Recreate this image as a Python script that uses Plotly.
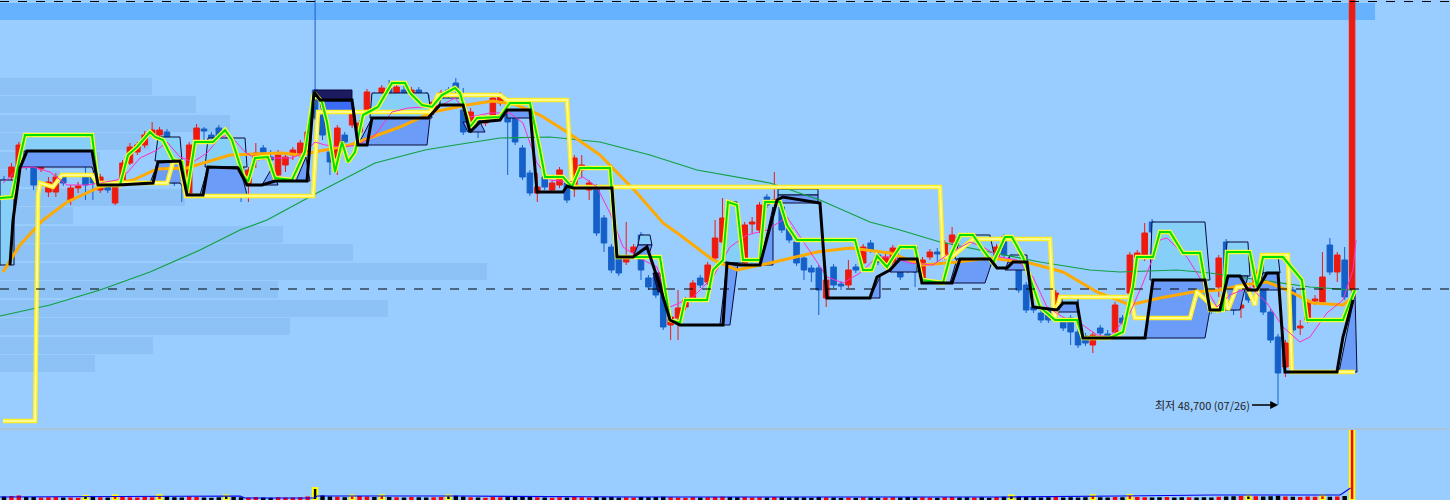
import plotly.graph_objects as go

# ---------------- candle data (price in KRW) ----------------
opens = [59950,60100,60600,61450,60600,60500,59350,59350,60100,58950,
         59550,60100,60100,59450,59600,58800,59950,60800,61350,61700,
         62200,62200,62350,60100,59950,59300,61850,62500,62200,62550,
         61950,61450,60800,59700,61050,61550,61100,60200,60700,61200,
         61200,61350,64450,63200,61350,61050,62200,62700,62350,63350,
         64200,63850,64550,64300,64450,63950,64450,64200,63350,64050,
         64450,64800,63450,62800,62950,62800,63200,63800,63600,63100,
         61550,60300,59300,60100,59450,59700,59800,59600,60450,59450,
         59600,58050,56600,56100,55850,56350,57200,55050,55100,54300,
         52700,53050,53600,54050,55050,54850,56050,56850,58800,56800,
         55800,57750,57450,59100,58800,58600,57550,56850,56050,55550,
         55550,54050,55600,54750,54700,55600,55800,56800,56200,55700,
         55850,55700,55950,55950,55050,56100,56350,56100,56850,57100,
         56850,56350,56550,55950,56100,57100,56100,56050,54700,53600,
         53300,53450,53300,52950,53050,52350,52150,51700,52550,52250,
         52350,53050,54300,56100,56050,57850,57450,56850,56800,55450,
         54600,54450,53950,53550,54600,56850,53950,53550,54450,54600,
         54450,53350,52100,50600,54450,52550,52950,53900,53850,56700,
         55350,55950,54450]
highs = [60150,60800,61850,61650,61000,60850,60100,60300,60250,59700,
         59850,60700,60350,60250,59800,59850,60950,61800,61850,62400,
         62850,62600,62500,60250,60150,61850,62750,62600,62350,62700,
         62100,61600,60950,60600,61800,61700,61450,61450,61250,61600,
         61950,62550,70950,63350,61550,62700,62350,63550,62950,64500,
         64350,64700,64950,64750,64650,64600,64600,64350,64000,64450,
         64600,65050,64550,63550,63200,63200,64200,64350,63750,63250,
         61700,60450,60300,60250,59950,60600,59950,61200,61200,59950,
         59750,58200,56750,56250,57850,56750,57350,55200,55250,54450,
         53250,54450,54100,54950,55200,55850,57950,59050,58950,56950,
         57850,58100,58850,59250,60350,58750,57700,57000,56200,55700,
         55700,55100,55750,54900,55950,55750,56750,56950,56350,56250,
         56700,55850,56100,56100,56100,56500,56550,56950,57600,57250,
         57000,57200,56700,56100,56750,57250,56250,56200,54850,53750,
         53450,53600,54450,53100,53200,52500,52300,52350,52700,52450,
         53850,53200,56350,56450,57800,58000,57600,57250,56950,55600,
         55350,54600,54100,53700,56200,57000,54100,53850,54600,55500,
         54600,53500,52250,51950,54600,52950,53950,54200,56350,57050,
         56350,56600,70750]
lows = [59650,59950,59850,60450,59450,60350,59100,59100,59650,58700,
        59300,58950,58950,59300,59300,58700,59800,60700,61200,61550,
        62100,61950,59700,59650,58850,59150,61700,61850,61450,61950,
        60800,60550,58850,58850,60550,60950,60700,60050,60350,60950,
        61050,61200,62950,61950,60200,60200,61450,62550,62200,63200,
        63650,63700,64150,64150,63950,63800,63400,63800,63200,63900,
        64050,64300,62200,62550,62050,62650,63050,63650,60200,61700,
        59950,59150,58850,59450,59300,59550,58800,59100,60100,58950,
        57150,56350,55300,55150,55700,56200,54950,54450,54050,52450,
        51950,51950,53450,53900,54550,54700,55900,56700,57050,55650,
        55650,57300,57300,58550,58650,57300,56800,55650,54950,54850,
        53200,53600,54550,54450,54550,55300,55650,56300,55700,55550,
        55700,54950,55300,54600,54900,55950,55850,55950,56700,56450,
        56400,56200,55650,55650,55950,56050,55650,54300,53300,53300,
        52800,52800,53150,52400,51700,51550,51650,51300,52150,51950,
        52200,52650,54150,55950,55900,57200,56950,56350,55550,54550,
        54450,53800,52950,53250,54100,54950,53200,53050,53800,54450,
        53200,51800,48700,50100,52300,52200,52800,53700,53700,55200,
        54850,53950,54300]
closes = [59850,60600,61700,60700,59700,60650,59850,60100,59800,59550,
          59650,59700,59800,60100,59450,59700,60800,61600,61700,62200,
          62450,62450,59850,59800,59800,61700,62550,62400,61700,62100,
          60950,60700,60200,60450,61300,61100,60950,61200,61100,61450,
          61800,62350,63050,62200,60850,62550,61850,63350,62800,64350,
          63850,64550,64300,64600,64100,64450,63550,63950,63850,64300,
          64200,64450,62350,63350,62700,62950,64050,64200,62850,61850,
          60100,59300,59600,59600,59800,60450,58950,61050,60700,59800,
          57300,56800,55450,55300,56100,56600,55450,54600,54200,52600,
          53100,53550,53950,54800,54700,55700,57050,58050,57200,55800,
          57700,57850,58700,58700,58950,57450,56950,55800,55450,55350,
          54450,54950,54700,54650,55450,55450,56600,56450,55850,56100,
          56550,55100,55450,55350,55950,56350,56250,56800,57200,56600,
          56550,57050,55800,55800,56600,56200,55800,54450,53450,53450,
          52950,52950,54300,52550,52350,51700,51800,52200,52300,52150,
          53700,52800,56200,56300,57300,57350,57100,57100,55700,55200,
          55200,53950,53100,53400,56050,55100,53450,53700,53950,55350,
          53350,51950,50300,51800,52450,52650,53800,54000,55100,55350,
          56200,54100,70750]
volumes = [70000,80000,90000,60000,60000,50000,55000,60000,50000,50000,
           45000,80000,60000,55000,50000,90000,60000,55000,50000,60000,
           55000,95000,70000,55000,50000,70000,60000,50000,45000,55000,
           90000,60000,55000,50000,60000,50000,45000,55000,50000,50000,
           55000,70000,240000,90000,70000,65000,55000,90000,80000,70000,
           60000,95000,60000,55000,50000,60000,55000,50000,55000,60000,
           90000,85000,70000,55000,50000,45000,60000,55000,65000,60000,
           65000,60000,55000,50000,45000,55000,50000,60000,55000,50000,
           60000,55000,60000,50000,55000,50000,60000,55000,60000,65000,
           55000,50000,45000,55000,50000,55000,60000,65000,60000,55000,
           60000,50000,55000,50000,60000,55000,50000,55000,50000,45000,
           60000,55000,50000,45000,50000,45000,55000,50000,45000,50000,
           55000,50000,60000,50000,55000,50000,45000,55000,60000,50000,
           55000,50000,55000,45000,60000,65000,90000,70000,60000,55000,
           50000,55000,60000,50000,55000,50000,55000,95000,55000,50000,
           60000,55000,100000,60000,55000,50000,55000,60000,50000,55000,
           55000,50000,55000,50000,65000,70000,75000,80000,90000,75000,
           70000,75000,85000,70000,65000,60000,70000,65000,95000,65000,
           70000,80000,1450000]
highlight_vol = [11, 15, 21, 30, 42, 47, 51, 60, 136, 147, 152, 168, 178, 182]

# ---------------- indicator key points (bar index, price) ----------------
tenkan_i = [-0.54,1.08,2.16,2.84,11.88,12.69,15.66,16.74,17.96,19.71,20.39,21.47,22.82,24.03,24.71,25.79,28.22,29.84,30.78,32.27,32.94,33.89,35.64,36.59,38.88,40.64,41.85,42.93,43.61,44.01,44.69,45.63,46.44,47.39,48.47,50.49,52.38,54.14,54.81,56.43,57.78,59.13,60.89,61.56,62.91,63.86,66.96,68.31,71.01,72.36,73.04,75.47,76.68,77.76,81.81,82.76,88.56,89.91,91.26,91.94,94.9,95.72,97.07,97.74,98.96,99.77,102.06,102.74,104.76,105.71,107.06,114.89,115.97,117.18,117.86,119.21,120.96,122.99,123.93,126.77,127.71,129.06,130.82,132.17,133.52,135.14,136.08,137.57,138.51,139.86,141.89,144.86,145.67,149.31,151.07,152.42,152.96,155.12,156.06,157.41,159.17,161.46,162.81,164.57,165.11,168.21,169.16,169.97,172.67,175.23,175.91,180.77,181.71,182.39]
tenkan_p = [59050,59100,61100,62200,62200,59700,59700,61200,61600,62350,62100,61950,60950,60850,59300,61850,61850,62450,61950,60200,59850,61050,61100,60050,59950,61350,64300,63850,62850,61850,60350,61850,60850,61350,63200,63600,64800,64800,64300,63700,63600,64200,64550,64300,62600,63050,63100,63800,63800,61450,60100,60100,59600,60550,60550,56100,56100,52950,52800,53950,53950,55450,55950,58850,58700,55950,55950,58850,58850,57700,56950,56950,55450,55450,56150,55600,56600,56600,54950,54800,56100,57200,57200,56450,55800,57100,57100,56100,55100,53600,52950,52950,52050,52050,52350,54600,56100,56100,57350,57350,56300,56300,53450,53450,56350,56350,54600,56100,56100,54950,52950,52950,53850,54450]

kijun_i = [0.81,1.22,2.16,3.11,11.88,12.69,15.39,20.12,20.79,23.76,24.71,26.87,27.54,31.59,32.81,34.83,36.59,40.91,41.85,42.66,46.98,47.79,49.01,49.68,57.24,58.86,61.97,62.91,64.26,66.96,67.91,71.01,71.96,75.47,76.01,76.82,82.08,82.76,84.92,86.81,88.16,89.91,91.26,97.07,97.61,99.36,102.06,104.36,105.17,110.16,111.11,116.91,117.86,119.61,120.96,123.26,123.93,127.98,129.06,133.11,134.06,135.41,136.22,138.11,138.92,142.16,142.97,144.86,145.67,154.04,155.12,162.14,162.81,164.16,165.24,166.86,167.94,169.16,170.51,172.0,172.94,179.96,180.77,182.12]
kijun_p = [55700,57950,60550,61400,61400,59700,59700,59800,60850,60900,59200,59200,60600,60550,59700,59700,59900,59900,64350,63950,63950,61700,61700,63050,63050,63700,63700,62350,62850,62950,63450,63450,59350,59350,59650,59550,59550,56100,56100,56600,55100,52950,52700,52700,55800,55700,55700,58950,59100,58800,54050,54050,55100,55450,56000,56000,54800,54800,56000,56000,55550,55550,55850,55850,53600,53450,53800,53800,52050,52050,54950,54950,53450,53450,55150,55150,54450,54450,55300,55300,50350,50350,52100,53950]

yellow_i = [-0.14,4.19,4.59,4.86,6.62,7.83,11.88,12.56,22.01,22.82,23.76,24.57,41.72,42.39,57.51,58.59,66.96,67.91,76.01,76.68,126.36,126.77,127.98,130.82,141.22,141.76,142.57,152.02,152.69,160.12,161.06,163.76,164.84,165.24,166.46,167.81,168.89,169.83,173.34,173.88,182.39]
yellow_p = [47900,47900,59200,59800,59600,60200,60200,59800,59800,60850,60850,59150,59150,63350,63350,64200,64200,63950,63950,59600,59600,56100,56100,57000,57000,52950,54100,54100,53050,53050,54350,53450,54350,53450,54600,54600,53700,56200,56200,50350,50350]

orange_i = [-0.14,2.16,5.27,8.51,12.96,17.42,20.66,24.71,30.51,37.53,39.96,46.71,53.46,57.92,62.51,66.02,69.26,72.36,76.01,80.46,85.46,88.97,91.26,95.72,98.96,103.42,109.76,114.22,119.61,124.07,128.66,133.11,138.51,142.97,147.56,152.02,156.06,160.52,164.16,167.27,170.51,173.21,176.72,180.77,182.12]
orange_p = [55350,56700,57950,58850,59600,59950,60500,60550,61200,61300,61200,61700,62600,63350,63700,63900,63700,63200,62350,61200,59300,57800,57200,55950,55450,55800,56350,56550,56300,55700,55850,56050,55800,55350,54350,53700,54050,54350,54450,54700,54850,54450,53800,53700,54100]

ma120_i = [-0.54,6.21,12.96,19.71,26.46,31.86,35.51,42.26,50.09,56.84,60.89,66.96,73.71,80.46,87.21,93.56,103.42,110.16,116.91,120.96,126.36,133.11,139.86,146.61,150.66,158.36,162.81,169.56,176.31,182.12]
ma120_p = [53150,53700,54450,55350,56450,57450,57950,59300,60800,61450,61700,62050,62100,61850,61200,60450,59800,58950,57850,57450,56850,56350,55850,55450,55350,55450,55300,54950,54600,54450]

ma5_i = [-0.14,2.16,3.92,6.21,8.51,11.21,12.96,15.26,16.61,18.36,20.66,22.01,23.76,25.52,27.41,29.16,30.51,32.54,34.29,36.18,38.88,40.64,41.99,43.34,45.63,47.79,50.09,52.38,54.54,56.84,59.13,60.89,62.91,65.61,68.31,70.07,71.96,73.71,76.41,78.17,80.06,81.81,83.57,86.27,88.16,89.91,93.02,95.72,98.01,100.31,103.01,105.71,108.41,111.11,113.27,115.57,117.86,119.61,122.31,125.42,127.71,130.42,132.17,134.47,136.76,138.92,140.81,142.97,145.26,147.56,149.31,152.02,153.77,156.06,157.0,159.71,161.87,163.76,165.51,168.21,170.51,172.67,174.96,176.31,178.6,180.77,182.12,182.53]
ma5_p = [59800,60550,60600,60350,59700,59700,59800,59950,60300,61050,61450,61850,61100,60850,61300,62100,62200,61350,60950,61050,61050,61350,61850,61700,61600,61700,62200,63350,63550,63600,63700,64050,63100,63300,63300,62800,60800,59950,59850,60100,59600,58300,56600,55950,55600,53600,54100,55100,56600,57200,57450,58100,56600,55100,54800,55300,56100,56100,55800,55700,56300,56850,56600,56100,55950,55100,53600,53100,52800,52200,52100,53300,54800,56950,57050,56100,54800,53600,54200,54600,53800,52600,51850,52100,53300,53950,55450,56950]

vma_i = [-0.54, 31.9, 32.5, 41.8, 42.3, 61.6, 85.0, 135.0, 150.7, 163.5, 180.4, 181.8]
vma_v = [60000, 80000, 40000, 40000, 80000, 80000, 60000, 60000, 80000, 100000, 100000, 240000]

# cloud polygons (bar index, price)
cloud_light = [
    [(-0.54,59950),(1.35,59950),(1.35,55700),(-0.54,55700)],
    [(2.43,61400),(2.84,62200),(11.88,62200),(12.29,61400)],
    [(20.39,60900),(20.79,62100),(23.76,62100),(24.03,60900)],
    [(27.14,60600),(27.54,62050),(32.54,62050),(32.81,60600)],
    [(49.41,63050),(49.68,64300),(57.24,64300),(57.78,63050)],
    [(58.86,63700),(58.86,64050),(61.97,64050),(61.97,63700)],
    [(67.91,63450),(67.91,63950),(71.01,63950),(71.01,63450)],
    [(85.59,56700),(85.86,57200),(87.21,57200),(87.48,56700)],
    [(97.07,55800),(97.74,58850),(98.96,58850),(99.77,55800)],
    [(104.5,59200),(104.5,59500),(109.9,59500),(109.9,59200)],
    [(120.69,56000),(120.69,56600),(123.26,56600),(123.26,56000)],
    [(128.39,56000),(129.06,57200),(133.11,57200),(133.79,56000)],
    [(135.55,55850),(135.82,56200),(138.11,56200),(138.11,55850)],
    [(142.84,53800),(142.84,54100),(145.0,54100),(145.0,53800)],
    [(154.72,54950),(154.99,57850),(162.14,57850),(162.81,54950)],
    [(164.84,55150),(165.11,56850),(167.94,56850),(168.21,55150)],
    [(169.97,55300),(169.97,56200),(172.0,56200),(172.27,55300)],
]
cloud_mid = [
    [(1.89,60600),(3.11,61400),(11.88,61400),(12.69,59700),(11.88,60600)],
    [(19.71,59800),(20.79,60850),(23.76,60900),(24.44,59450),(23.76,59800)],
    [(26.46,59200),(27.54,60600),(31.86,60600),(32.81,59200)],
    [(34.83,59700),(36.18,60550),(36.99,59700)],
    [(39.42,59900),(40.77,61100),(41.31,59900)],
    [(47.79,61700),(49.68,63050),(57.51,63050),(57.11,61700)],
    [(61.97,62850),(62.64,62350),(64.94,62350),(64.26,62850)],
    [(67.91,63050),(67.91,63450),(71.01,63450),(71.01,63050)],
    [(84.92,56100),(85.59,56700),(87.48,56700),(86.94,56100)],
    [(96.66,52700),(97.61,55800),(99.09,55800),(98.01,52700)],
    [(102.06,55700),(103.82,58600),(103.82,55700)],
    [(104.5,58800),(104.5,59200),(109.9,59200),(109.9,58800)],
    [(116.91,54050),(118.26,55100),(118.26,54050)],
    [(119.61,55350),(120.69,56000),(123.26,56000),(123.26,55350)],
    [(127.71,54800),(128.66,56000),(133.52,56000),(132.44,54800)],
    [(135.14,55450),(135.55,55850),(138.11,55850),(138.11,55450)],
    [(142.3,53350),(142.84,53800),(145.0,53800),(145.0,53350)],
    [(154.04,52050),(155.12,54950),(162.14,54950),(162.81,53450),(162.14,52050)],
    [(164.16,53450),(165.24,55150),(167.94,55150),(166.86,53450)],
    [(169.16,54450),(169.97,55300),(172.0,55300),(172.27,54450)],
    [(180.23,50350),(182.39,54300),(182.66,50350)],
]
cloud_navy = [
    [(41.85,64450),(46.98,64450),(46.98,63900),(42.39,63900)],
    [(87.62,55300),(88.56,55300),(89.24,54350),(88.29,54350)],
]
cloud_bright = [
    [(42.66,63900),(46.98,63900),(47.39,63350),(42.93,63350)],
]

# volume profile (price level, volume)
prof_price = [64650,63725,62800,61875,60950,60025,59100,58175,57250,56325,55400,54475,53550,52625,51700,50775]
prof_vol = [3040,3920,4600,3000,2000,1200,3700,1460,5660,7060,9740,5560,7760,5800,3060,1900]

low_text = "최저 48,700 (07/26)"
low_idx, low_price = 172, 48700
last_line_price = 54500

# ---------------- figure ----------------
BG = "#99CCFF"
fig = go.Figure()

# profile sits on the base subplot so everything else is drawn above it
fig.add_trace(go.Bar(orientation="h", y=prof_price, x=prof_vol, width=850,
                     xaxis="x", yaxis="y", marker=dict(color="#8CC2F6", line=dict(width=0)),
                     showlegend=False, hoverinfo="skip"))

def add_polys(polys, fill):
    for poly in polys:
        xs = [pt[0] for pt in poly] + [poly[0][0]]
        ys = [pt[1] for pt in poly] + [poly[0][1]]
        fig.add_trace(go.Scatter(x=xs, y=ys, mode="lines", fill="toself", fillcolor=fill,
                                 xaxis="x2", yaxis="y",
                                 line=dict(color="#0A0A3A", width=1), showlegend=False,
                                 hoverinfo="skip"))

add_polys(cloud_light, "#86CFF8")
add_polys(cloud_mid, "#6A9CF8")
add_polys(cloud_navy, "#1C1A60")
add_polys(cloud_bright, "#3A6CF5")

idx = list(range(len(opens)))
fig.add_trace(go.Candlestick(x=idx, open=opens, high=highs, low=lows, close=closes,
                             xaxis="x2", yaxis="y",
                             increasing=dict(line=dict(color="#EE1A0E", width=1), fillcolor="#EE1A0E"),
                             decreasing=dict(line=dict(color="#1560C8", width=1), fillcolor="#1560C8"),
                             whiskerwidth=0, showlegend=False, hoverinfo="skip"))

def line(xs, ys, color, width, dash=None):
    fig.add_trace(go.Scatter(x=xs, y=ys, mode="lines", xaxis="x2", yaxis="y",
                             line=dict(color=color, width=width, dash=dash),
                             showlegend=False, hoverinfo="skip"))

line(ma120_i, ma120_p, "#11A040", 1.2)
line(orange_i, orange_p, "#FFAA00", 3)
line(yellow_i, yellow_p, "#FFEE22", 4.5)
line(yellow_i, yellow_p, "#FFFFB0", 1.5)
line(ma5_i, ma5_p, "#FF2EC8", 1)
line(tenkan_i, tenkan_p, "#F4FF30", 4.5)
line(tenkan_i, tenkan_p, "#00E000", 2)
line(kijun_i, kijun_p, "#000000", 3)

vcolors = ["#FF0000" if c >= o else "#000000" for o, c in zip(opens, closes)]
vline_c = ["#FFFF00" if k in highlight_vol else "rgba(0,0,0,0)" for k in idx]
vline_w = [2 if k in highlight_vol else 0 for k in idx]
fig.add_trace(go.Bar(x=idx, y=volumes, width=0.6, xaxis="x3", yaxis="y2",
                     marker=dict(color=vcolors, line=dict(color=vline_c, width=vline_w)),
                     showlegend=False, hoverinfo="skip"))
fig.add_trace(go.Scatter(x=vma_i, y=vma_v, mode="lines", xaxis="x3", yaxis="y2",
                         line=dict(color="#0000EE", width=1.2), showlegend=False, hoverinfo="skip"))

XR = [-0.54, 195.22]
fig.update_layout(
    width=1450, height=500, margin=dict(l=0, r=0, t=0, b=0, pad=0),
    paper_bgcolor=BG, plot_bgcolor=BG, showlegend=False, bargap=0,
    boxgap=0.25, boxgroupgap=0.0,
    xaxis=dict(range=[0, 29000], visible=False, anchor="y", rangeslider=dict(visible=False)),
    xaxis2=dict(range=XR, overlaying="x", visible=False, anchor="y", rangeslider=dict(visible=False)),
    xaxis3=dict(range=XR, visible=False, anchor="y2", domain=[0, 1], rangeslider=dict(visible=False)),
    yaxis=dict(domain=[0.14, 1], range=[47450, 68950], visible=False, anchor="x"),
    yaxis2=dict(domain=[0, 0.14], range=[0, 1400000], visible=False, anchor="x3"),
    shapes=[
        dict(type="rect", xref="paper", yref="paper", x0=0, x1=0.9483, y0=0.96, y1=0.994,
             fillcolor="#66B2FF", line=dict(width=0), layer="below"),
        dict(type="line", xref="paper", yref="paper", x0=0, x1=1, y0=0.997, y1=0.997,
             line=dict(color="#000000", width=1, dash="dash")),
        dict(type="line", xref="paper", yref="y", x0=0, x1=1, y0=last_line_price, y1=last_line_price,
             line=dict(color="#000000", width=1, dash="dash")),
        dict(type="line", xref="paper", yref="paper", x0=0, x1=1, y0=0.142, y1=0.142,
             line=dict(color="#BBBBBB", width=1)),
    ],
    annotations=[
        dict(x=low_idx, y=low_price, xref="x2", yref="y", text=low_text, showarrow=True,
             ax=-26, ay=0, xanchor="right", arrowhead=2, arrowsize=1.2, arrowwidth=1.3,
             arrowcolor="#000000", font=dict(family="Noto Sans CJK KR", size=11, color="#222222")),
    ],
)

fig.write_html("out.html", config={"displayModeBar": False, "staticPlot": True},
               post_script="document.body.style.margin='0px';document.body.style.overflow='hidden';")
